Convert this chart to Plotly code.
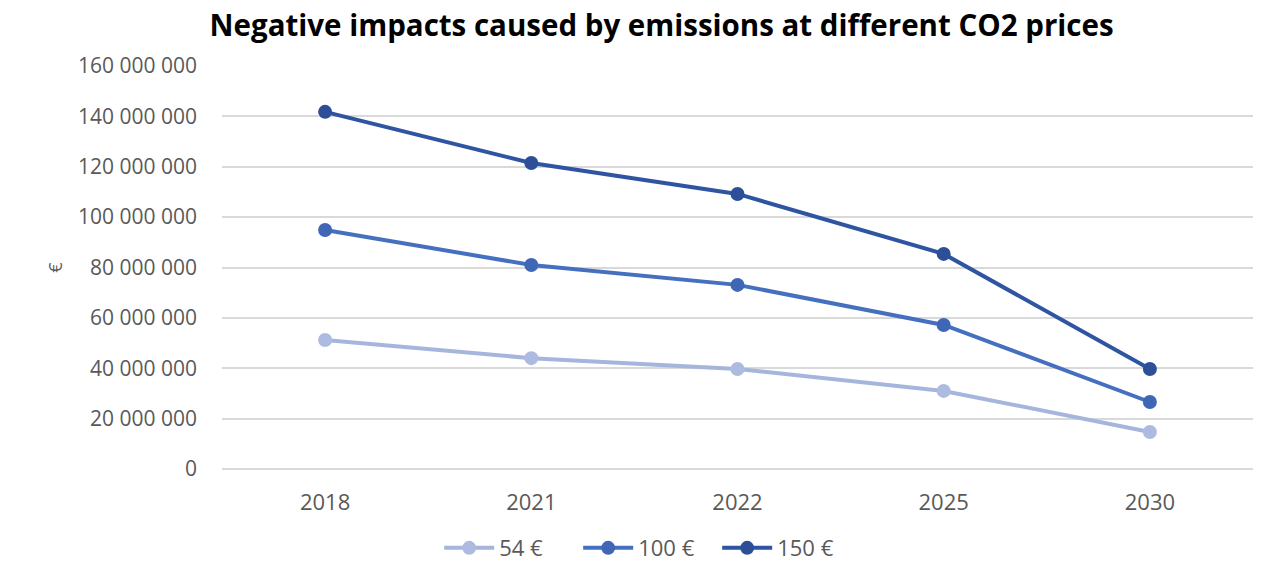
import plotly.graph_objects as go

years = ["2018", "2021", "2022", "2025", "2030"]
price_54 = [51_200_000, 44_000_000, 39_700_000, 31_000_000, 14_700_000]
price_100 = [94_900_000, 81_000_000, 73_100_000, 57_200_000, 26_600_000]
price_150 = [141_800_000, 121_500_000, 109_200_000, 85_400_000, 39_700_000]
series_names = ["54 €", "100 €", "150 €"]
y_ticks = [0, 20_000_000, 40_000_000, 60_000_000, 80_000_000,
           100_000_000, 120_000_000, 140_000_000, 160_000_000]

colors = ["#a6b5dc", "#4470bf", "#2f55a2"]
marker_colors = ["#aebbe0", "#3f67b6", "#2d4f98"]

fig = go.Figure()
for name, vals, c, mc in zip(series_names, [price_54, price_100, price_150], colors, marker_colors):
    fig.add_trace(go.Scatter(
        x=years, y=vals, name=name, mode="lines+markers",
        line=dict(color=c, width=4),
        marker=dict(color=mc, size=14, line=dict(width=0)),
    ))

fig.update_layout(
    width=1265, height=565,
    paper_bgcolor="white", plot_bgcolor="white",
    margin=dict(l=222, r=12, t=66, b=96, autoexpand=False),
    separators=". ",
    font=dict(family="Open Sans", color="#595959", size=20),
    title=dict(
        text="<b>Negative impacts caused by emissions at different CO2 prices</b>",
        x=0.523, xanchor="center", y=0.955, yanchor="middle",
        font=dict(family="Open Sans", size=29.5, color="black"),
    ),
    xaxis=dict(
        type="category", range=[-0.5, 4.5],
        showgrid=False, showline=False, ticks="",
        ticklabelstandoff=18,
        tickfont=dict(size=22, color="#595959"),
    ),
    yaxis=dict(
        range=[0, 160_000_000], tickvals=y_ticks, tickformat=",d",
        showgrid=True, gridcolor="#d9d9d9", gridwidth=1.5,
        zeroline=True, zerolinecolor="#d9d9d9", zerolinewidth=1.5,
        showline=False, ticks="", ticklabelstandoff=24,
        tickfont=dict(size=21, color="#595959"),
        title=dict(text="€", standoff=10, font=dict(size=18, color="#595959")),
    ),
    legend=dict(
        orientation="h", xref="container", x=0.512, xanchor="center",
        yref="container", y=0.03, yanchor="middle",
        font=dict(size=22, color="#595959"),
        itemwidth=50, entrywidth=74, tracegroupgap=0,
    ),
    showlegend=True,
)

fig.write_html("out.html")
